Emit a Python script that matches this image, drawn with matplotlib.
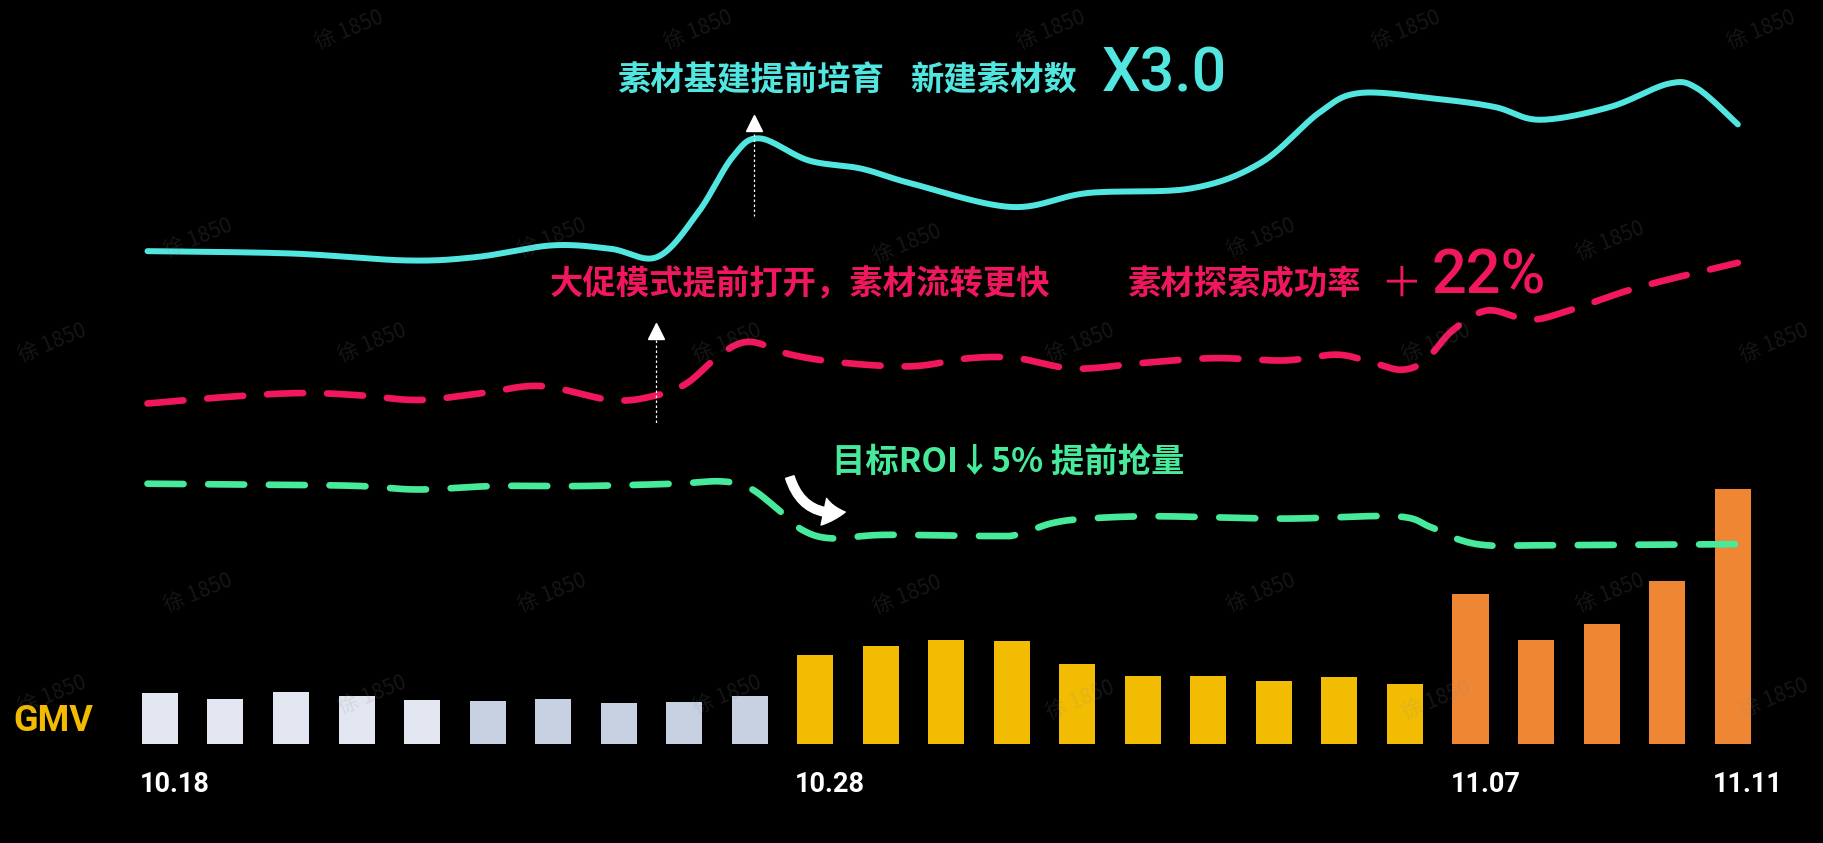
import numpy as np
import matplotlib
matplotlib.use("Agg")
import matplotlib.pyplot as plt
from matplotlib.patches import FancyArrowPatch

# ---------------- data ----------------
dates = ["10.18", "10.19", "10.20", "10.21", "10.22", "10.23", "10.24", "10.25", "10.26",
         "10.27", "10.28", "10.29", "10.30", "10.31", "11.01", "11.02", "11.03", "11.04",
         "11.05", "11.06", "11.07", "11.08", "11.09", "11.10", "11.11"]
gmv = [44, 39, 45, 41, 38, 37, 39, 35, 36, 41,
       77, 84, 89.5, 89, 69, 58.5, 58.5, 54, 57.5, 51.5,
       129.5, 89.5, 103.5, 140.5, 219.5]
shown_ticks = ["10.18", "10.28", "11.07", "11.11"]

# 新建素材数 (cyan, solid) : day position / level
cyan_x = [-0.19, 2.0, 3.77, 4.84, 5.99, 6.88, 7.59, 8.21, 8.74, 9.15, 9.9, 10.7, 11.48,
          12.99, 14.16, 15.74, 16.8, 17.69, 18.31, 19.48, 20.37, 21.06, 22.13, 23.02, 23.46, 24.08]
cyan_y = [424, 422, 416, 419, 429, 426, 419, 457, 505, 521, 502, 495, 482,
          462, 474, 478, 500, 543, 560, 555, 548, 537, 548, 568, 564, 533]

# 素材探索成功率 (pink, dashed)
pink_x = [-0.19, 1.11, 2.18, 3.06, 3.95, 4.93, 5.81, 6.88, 7.5, 8.03, 8.57, 9.01, 9.63,
          10.43, 11.48, 12.36, 13.07, 13.96, 15.03, 16.09, 17.16, 17.96, 18.51, 18.95,
          19.31, 19.73, 20.26, 20.9, 21.51, 22.57, 24.08]
pink_y = [293, 299, 302, 300, 296, 302, 308, 296, 299, 310, 336, 346, 335,
          328, 325, 332, 332, 323, 328, 332, 330, 335, 328, 322,
          330, 356, 373, 365, 373, 393, 414]

# 目标ROI (green, dashed)
green_x = [-0.19, 2.0, 3.06, 3.95, 5.1, 6.44, 7.86, 8.57, 9.01, 9.45, 9.81, 10.25, 11.05,
           12.63, 13.07, 13.61, 14.16, 15.21, 17.16, 18.85, 19.38, 19.82, 20.26, 20.97, 24.08]
green_y = [224, 223, 222, 219, 222, 222, 224, 226, 220, 201, 184, 177, 180,
           179, 180, 190, 194, 196, 194, 196, 187, 176, 171, 171, 172]

# ---------------- style ----------------
BG = "#000000"
CYAN = "#52E6E1"
PINK = "#F0175D"
GREEN = "#47E99B"
GOLD = "#F2BA00"
BAR_W = 0.55
CJK = ["Noto Sans CJK SC", "DejaVu Sans"]
NUM = ["Roboto", "DejaVu Sans"]


def bar_color(i):
    if i < 5:
        return "#E2E6F0"
    if i < 10:
        return "#C8D1E2"
    if i < 20:
        return "#F2BC02"
    return "#EE8633"


def smooth(xs, ys, n=30):
    P = np.column_stack([xs, ys]).astype(float)
    P = np.vstack([P[0], P, P[-1]])
    out = []
    t = np.linspace(0, 1, n, endpoint=False)[:, None]
    for i in range(1, len(P) - 2):
        p0, p1, p2, p3 = P[i - 1], P[i], P[i + 1], P[i + 2]
        seg = 0.5 * (2 * p1 + (-p0 + p2) * t + (2 * p0 - 5 * p1 + 4 * p2 - p3) * t ** 2
                     + (-p0 + 3 * p1 - 3 * p2 + p3) * t ** 3)
        out.append(seg)
    out.append(P[-2][None])
    S = np.vstack(out)
    return S[:, 0], S[:, 1]


fig = plt.figure(figsize=(18.24, 8.43), dpi=100, facecolor=BG)

ax = fig.add_axes([0, 85 / 725, 1, 640 / 725])
ax.set_facecolor("none")
ax.set_xlim(-137.5 / 56.33, (1568 - 137.5) / 56.33)
ax.set_ylim(0, 640)
ax.axis("off")

x = np.arange(len(dates))
ax.bar(x, gmv, width=BAR_W, color=[bar_color(i) for i in range(len(gmv))], zorder=2)

for lab in shown_ticks:
    i = dates.index(lab)
    ax.text(x[i] - BAR_W / 2 - 0.03, -35, lab, family=NUM, fontsize=19.5,
            fontweight="bold", color="white", ha="left", va="center", clip_on=False)

ax.text(-1.62, 20, "GMV", family=NUM, fontsize=26, fontweight="bold", color=GOLD,
        ha="center", va="center")

# lines
cx, cy = smooth(cyan_x, cyan_y)
ax.plot(cx, cy, color=CYAN, lw=4.3, solid_capstyle="round", zorder=4)
px, py = smooth(pink_x, pink_y)
ax.plot(px, py, color=PINK, lw=4.8, dashes=(5.4, 3.6), dash_capstyle="round", zorder=4)
gx, gy = smooth(green_x, green_y)
ax.plot(gx, gy, color=GREEN, lw=4.8, dashes=(5.4, 3.7), dash_capstyle="round", zorder=4)

# annotation markers (triangles + dotted guides)
for ax_x, tri_y, y0, y1 in [(9.06, 534, 525, 454), (7.57, 355, 348, 275)]:
    ax.plot([ax_x, ax_x], [y0, y1], color="white", lw=0.9, ls=(0, (2, 2)), zorder=5)
    ax.plot([ax_x], [tri_y], marker="^", ms=11, color="white", mec="white", zorder=5)

arr = FancyArrowPatch((9.6, 232), (10.5, 200), connectionstyle="arc3,rad=0.45",
                      arrowstyle="simple,head_width=1.4,head_length=1.1,tail_width=0.45",
                      mutation_scale=14, color="white", zorder=5)
ax.add_patch(arr)

# texts
ax.text(6.97, 570, "素材基建提前培育", family=CJK, fontsize=24, fontweight="bold",
        color=CYAN, ha="left", va="center")
ax.text(11.45, 570, "新建素材数", family=CJK, fontsize=24, fontweight="bold",
        color=CYAN, ha="left", va="center")
ax.text(14.38, 576, "X3.0", family=NUM, fontsize=44, fontweight="medium",
        color=CYAN, ha="left", va="center")

ax.text(5.95, 395, "大促模式提前打开，素材流转更快", family=CJK, fontsize=24,
        fontweight="bold", color=PINK, ha="left", va="center")
ax.text(14.76, 395, "素材探索成功率", family=CJK, fontsize=24, fontweight="bold",
        color=PINK, ha="left", va="center")
ax.text(18.62, 395, "＋", family=CJK, fontsize=30, fontweight="light",
        color=PINK, ha="left", va="center")
ax.text(19.4, 402, "22%", family=NUM, fontsize=44, fontweight="medium",
        color=PINK, ha="left", va="center")

ax.text(10.25, 242, "目标ROI↓5% 提前抢量", family=CJK, fontsize=24, fontweight="bold",
        color=GREEN, ha="left", va="center")

# faint watermarks drawn on top (as in the reference)
wm = [(170, 205), (475, 205), (780, 210), (1084, 205), (1384, 207),
      (45, 295), (320, 295), (625, 295), (929, 295), (1235, 295), (1525, 295),
      (170, 510), (475, 510), (780, 512), (1084, 510), (1384, 510),
      (45, 598), (320, 598), (625, 598), (929, 602), (1235, 602), (1525, 600),
      (300, 26), (600, 26), (904, 26), (1209, 26), (1514, 26)]
for wx, wy in wm:
    fig.text(wx / 1568, 1 - wy / 725, "徐 1850", family=CJK, fontsize=15,
             color="#8a8a8a", alpha=0.16, rotation=22, ha="center", va="center",
             zorder=10)

fig.savefig("out.png", dpi=100, facecolor=BG)
